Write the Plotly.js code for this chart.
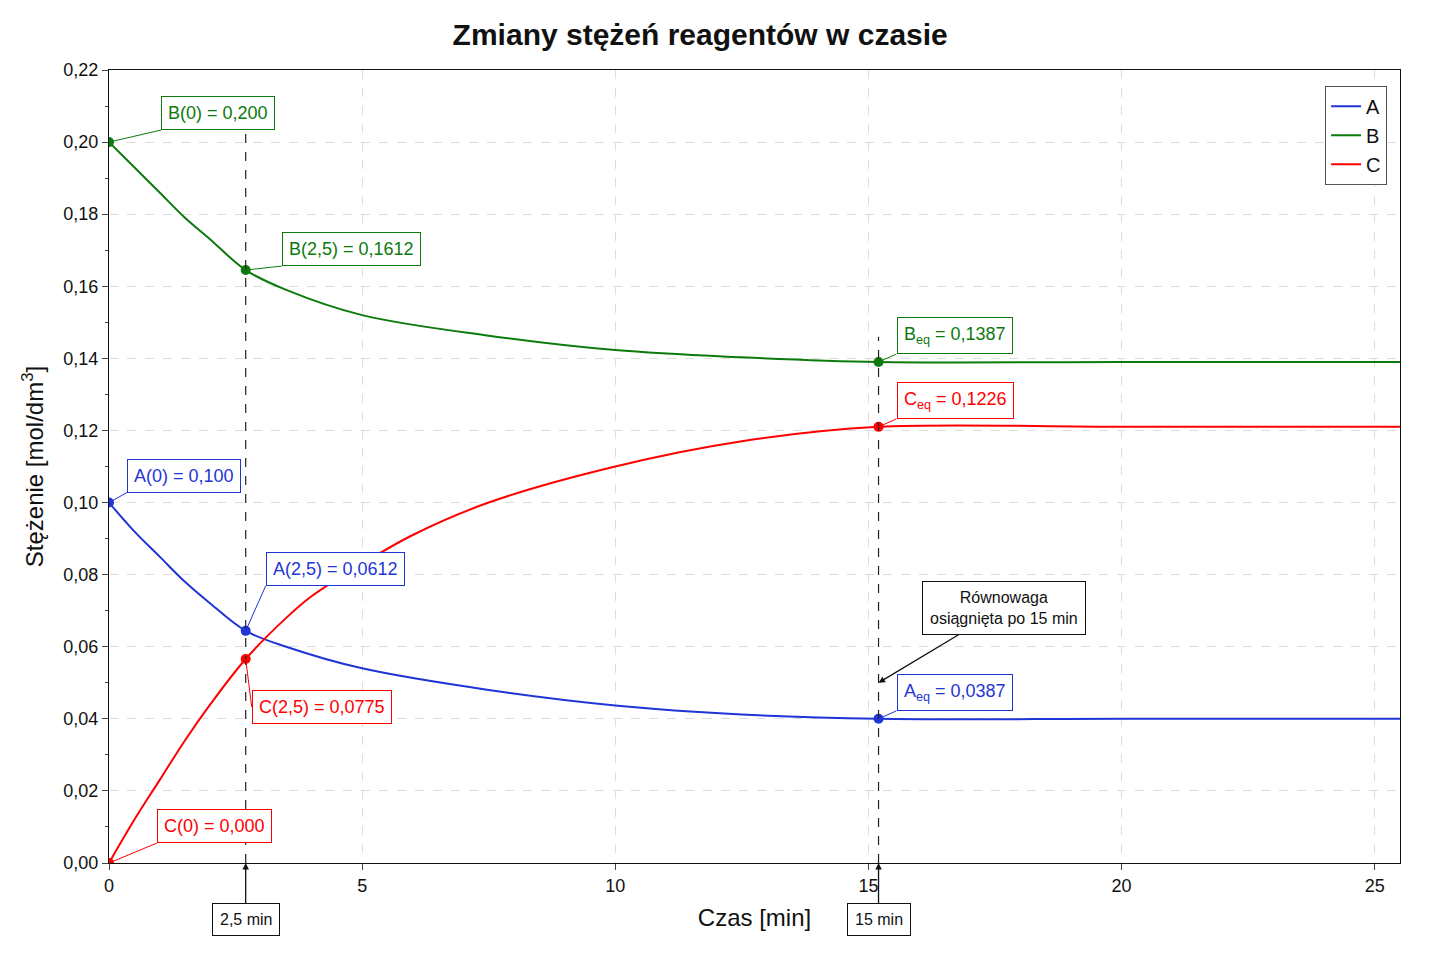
<!DOCTYPE html>
<html>
<head>
<meta charset="utf-8">
<script src="https://cdn.plot.ly/plotly-3.0.1.min.js"></script>
<style>body{margin:0;background:#fff}#chart{width:1429px;height:953px}</style>
</head>
<body>
<div id="chart"></div>
<script>
// Values
const timeA = [0, 0.5, 1, 1.5, 2, 2.7, 3.5, 5, 7.5, 10, 12.5, 15.2, 20, 25.5];
const concA = [0.100, 0.092, 0.085, 0.078, 0.072, 0.0644, 0.060, 0.054, 0.048, 0.0437, 0.0412, 0.0400, 0.0400, 0.0400];
const timeB = [0, 0.5, 1, 1.5, 2, 2.7, 3.5, 5, 7.5, 10, 12.5, 15.2, 20, 25.5];
const concB = [0.200, 0.193, 0.186, 0.179, 0.173, 0.1645, 0.159, 0.152, 0.1463, 0.1423, 0.1403, 0.139, 0.139, 0.139];
const timeC = [0, 0.5, 1, 1.5, 2, 2.7, 3.5, 4, 5, 6, 7.5, 10, 12.5, 15.2, 20, 25.5];
const concC = [0, 0.012, 0.023, 0.034, 0.044, 0.0566, 0.068, 0.074, 0.083, 0.091, 0.100, 0.110, 0.117, 0.121, 0.121, 0.121];

const markT = [0, 2.7, 15.2];
const markA = [0.100, 0.0644, 0.0400];
const markB = [0.200, 0.1645, 0.139];
const markC = [0, 0.0566, 0.121];

const labelsA = ['A(0) = 0,100', 'A(2,5) = 0,0612', 'A<sub>eq</sub> = 0,0387'];
const labelsB = ['B(0) = 0,200', 'B(2,5) = 0,1612', 'B<sub>eq</sub> = 0,1387'];
const labelsC = ['C(0) = 0,000', 'C(2,5) = 0,0775', 'C<sub>eq</sub> = 0,1226'];

const colors = { A: '#1f35d6', B: '#0d7a0d', C: '#ff0000' };
const font = 'Arial, "Liberation Sans", sans-serif';

const traces = [
    { x: timeA, y: concA, name: 'A', color: colors.A },
    { x: timeB, y: concB, name: 'B', color: colors.B },
    { x: timeC, y: concC, name: 'C', color: colors.C }
].map(s => ({
    x: s.x, y: s.y, name: s.name, type: 'scatter', mode: 'lines',
    line: { color: s.color, width: 2, shape: 'spline', smoothing: 1 }
}));

[[markA, colors.A], [markB, colors.B], [markC, colors.C]].forEach(([ys, c]) => {
    traces.push({ x: markT, y: ys, type: 'scatter', mode: 'markers', showlegend: false,
        marker: { color: c, size: 10 }, hoverinfo: 'skip' });
});

// dashed verticals
traces.push({ x: [2.7, 2.7], y: [0, 0.203], mode: 'lines', showlegend: false,
    line: { color: '#222', width: 1.2, dash: 'dash' } });
traces.push({ x: [15.2, 15.2], y: [0, 0.146], mode: 'lines', showlegend: false,
    line: { color: '#222', width: 1.2, dash: 'dash' } });

function box(text, x, y, ax, ay, color) {
    return { x, y, text, showarrow: true, arrowhead: 0, arrowcolor: color, arrowwidth: 1,
        ax, ay, axref: 'pixel', ayref: 'pixel', xanchor: 'left', yanchor: 'bottom',
        font: { family: font, size: 18, color }, bgcolor: '#fff', bordercolor: color,
        borderwidth: 1, borderpad: 6 };
}
// ax/ay are pixel offsets of the label
const annotations = [
    box(labelsB[0], markT[0], markB[0], 52, -12, colors.B),
    box(labelsB[1], markT[1], markB[1], 36, -4, colors.B),
    box(labelsB[2], markT[2], markB[2], 18, -8, colors.B),
    box(labelsC[2], markT[2], markC[2], 18, -8, colors.C),
    box(labelsA[0], markT[0], markA[0], 18, -10, colors.A),
    box(labelsA[1], markT[1], markA[1], 20, -45, colors.A),
    box(labelsA[2], markT[2], markA[2], 18, -8, colors.A),
    box(labelsC[1], markT[1], markC[1], 6, 48, colors.C),
    box(labelsC[0], markT[0], markC[0], 48, -20, colors.C)
];
annotations.forEach(a => { if (a.ay > 0) { a.yanchor = 'middle'; } });
annotations.push({ x: 15.2, y: 0.05, text: 'Równowaga<br>osiągnięta po 15 min', showarrow: true,
    arrowhead: 2, arrowsize: 1, arrowwidth: 1.3, arrowcolor: '#111', ax: 125, ay: -75,
    axref: 'pixel', ayref: 'pixel', font: { family: font, size: 16, color: '#111' },
    bgcolor: '#fff', bordercolor: '#111', borderwidth: 1, borderpad: 7 });
[[2.7, '2,5 min'], [15.2, '15 min']].forEach(([x, t]) => {
    annotations.push({ x, y: 0, text: t, showarrow: true, arrowhead: 2, arrowwidth: 1.3,
        arrowcolor: '#111', ax: 0, ay: 56, axref: 'pixel', ayref: 'pixel',
        font: { family: font, size: 16, color: '#111' }, bgcolor: '#fff',
        bordercolor: '#111', borderwidth: 1, borderpad: 7 });
});

const layout = {
    width: 1429, height: 953,
    paper_bgcolor: '#fff', plot_bgcolor: '#fff',
    margin: { l: 109, r: 29, t: 70, b: 90 },
    font: { family: font, color: '#111' },
    title: { text: '<b>Zmiany stężeń reagentów w czasie</b>', x: 0.49, y: 0.975,
        font: { size: 30, family: font, color: '#111' } },
    xaxis: { range: [0, 25.5], tickvals: [0, 5, 10, 15, 20, 25], ticktext: ['0', '5', '10', '15', '20', '25'],
        showline: true, mirror: true, linecolor: '#111', linewidth: 1.2, ticks: 'outside',
        ticklen: 6, zeroline: false, gridcolor: '#ddd', griddash: 'dash',
        tickfont: { size: 18 }, title: { text: 'Czas [min]', font: { size: 24 }, standoff: 14 } },
    yaxis: { range: [0, 0.22], dtick: 0.02, tickformat: '.2f',
        showline: true, mirror: true, linecolor: '#111', linewidth: 1.2, ticks: 'outside',
        ticklen: 6, zeroline: false, gridcolor: '#ddd', griddash: 'dash',
        minor: { dtick: 0.01, ticks: 'outside', ticklen: 3, showgrid: false },
        tickfont: { size: 18 }, title: { text: 'Stężenie [mol/dm<sup>3</sup>]', font: { size: 24 }, standoff: 12 } },
    separators: ', ',
    legend: { x: 0.99, y: 0.98, xanchor: 'right', yanchor: 'top', bgcolor: '#fff',
        bordercolor: '#555', borderwidth: 1, font: { size: 20 }, tracegroupgap: 8 },
    annotations
};

Plotly.newPlot('chart', traces, layout, { displayModeBar: false });
</script>
</body>
</html>
